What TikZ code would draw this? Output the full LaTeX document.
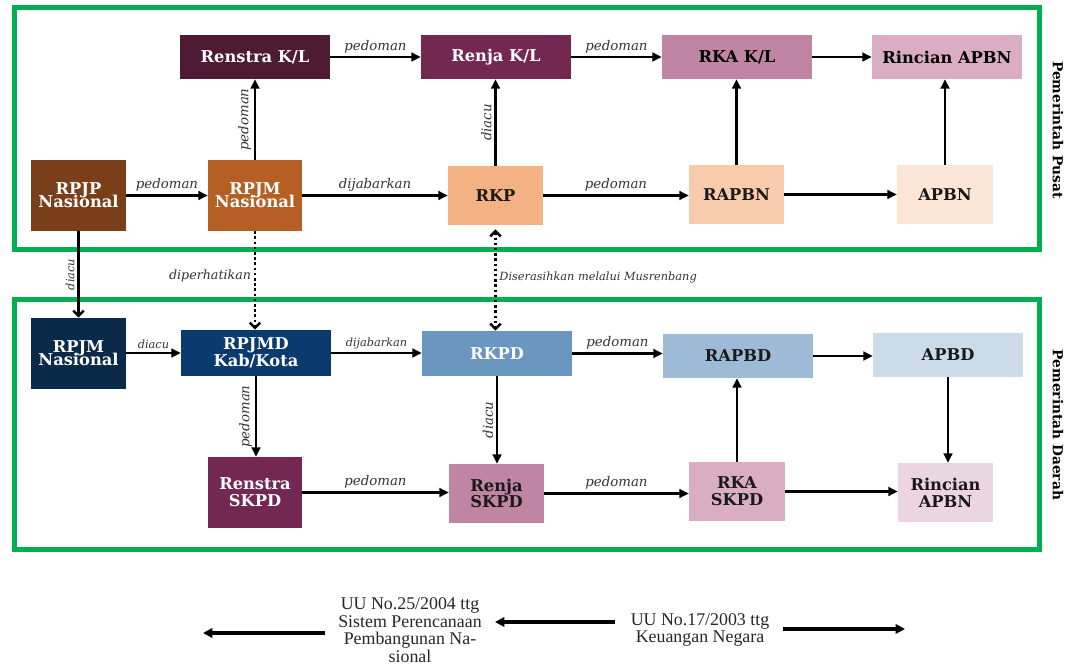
\documentclass[tikz,border=0pt]{standalone}
\usepackage{fontspec}
\setmainfont{DejaVu Serif}
\newfontfamily\legfont{Liberation Serif}
\usetikzlibrary{arrows.meta,calc}
\newcommand\tightlines{\lineskiplimit=-20pt\relax\lineskip=0pt\relax}
\definecolor{frameg}{HTML}{00B050}
\definecolor{cRenstraKL}{HTML}{4F1A34}
\definecolor{cRenjaKL}{HTML}{722850}
\definecolor{cRKAKL}{HTML}{C084A4}
\definecolor{cRincianT}{HTML}{D9ADC3}
\definecolor{cRPJP}{HTML}{7A3F1A}
\definecolor{cRPJM}{HTML}{B55F25}
\definecolor{cRKP}{HTML}{F4B183}
\definecolor{cRAPBN}{HTML}{F8CBAD}
\definecolor{cAPBN}{HTML}{FBE5D6}
\definecolor{cRPJMb}{HTML}{0B2A4A}
\definecolor{cRPJMD}{HTML}{0A3A6E}
\definecolor{cRKPD}{HTML}{6A96C0}
\definecolor{cRAPBD}{HTML}{9DBAD6}
\definecolor{cAPBD}{HTML}{CCDBE8}
\definecolor{cRenstraS}{HTML}{722850}
\definecolor{cRenjaS}{HTML}{C084A4}
\definecolor{cRKAS}{HTML}{D9ADC3}
\definecolor{cRincianB}{HTML}{EBD5E0}
\tikzset{
  box/.style={draw=none, inner sep=0pt, align=center,
    font=\fontsize{12.2}{12.5}\selectfont\bfseries},
  tight/.style={font=\fontsize{12.2}{9.6}\selectfont\bfseries\tightlines},
  conn/.style={line width=1.9pt, -{Triangle[length=7pt,width=6.5pt]}},
  dotconn/.style={line width=1.9pt, dotted, -{Straight Barb[length=4pt,width=8pt]}},
  lbl/.style={font=\fontsize{10}{12}\selectfont\itshape, text=black!80, inner sep=2pt},
  slbl/.style={font=\fontsize{8.5}{10}\selectfont\itshape, text=black!80, inner sep=2pt},
  side/.style={font=\fontsize{10.3}{12}\selectfont\bfseries, rotate=-90},
  leg/.style={font=\legfont\fontsize{13.4}{13.2}\selectfont, align=center, text=black!85, inner sep=0pt},
  legarrow/.style={line width=2.5pt, -{Triangle[length=7pt,width=7pt]}},
  frame/.style={draw=frameg, line width=3.75pt}
}
\newcommand\bx[9][]{\node[box,#1,fill=#7,text=#8,minimum width={(#4-#2)*0.75pt},minimum height={(#5-#3)*0.75pt}] (#6) at ({(#2+#4)/2},{(#3+#5)/2}) {#9};}
\begin{document}
\begin{tikzpicture}[x=0.75pt,y=-0.75pt]
\useasboundingbox (0,0) rectangle (1074,666);
% frames
\draw[frame] (14.5,8) rectangle (1039.5,250);
\draw[frame] (14.5,300) rectangle (1039.5,549);
% top boxes
\bx{180}{35}{330}{79}{renstraKL}{cRenstraKL}{white}{Renstra K/L}
\bx{421}{35}{571}{79}{renjaKL}{cRenjaKL}{white}{Renja K/L}
\bx{662}{35}{812}{79}{rkaKL}{cRKAKL}{black}{RKA K/L}
\bx{872}{35}{1022}{79}{rincianT}{cRincianT}{black}{Rincian APBN}
\bx[tight]{31}{160}{126}{231}{rpjp}{cRPJP}{white}{RPJP\\Nasional}
\bx[tight]{208}{160}{302}{231}{rpjm}{cRPJM}{white}{RPJM\\Nasional}
\bx{448}{166}{543}{225}{rkp}{cRKP}{black!90}{RKP}
\bx{689}{165}{784}{224}{rapbn}{cRAPBN}{black!90}{RAPBN}
\bx{897}{165}{993}{224}{apbn}{cAPBN}{black!90}{APBN}
% bottom boxes
\bx[tight]{31}{318}{126}{389}{rpjmb}{cRPJMb}{white}{RPJM\\Nasional}
\bx{181}{330}{331}{376}{rpjmd}{cRPJMD}{white}{RPJMD\\Kab/Kota}
\bx{422}{331}{572}{376}{rkpd}{cRKPD}{white}{RKPD}
\bx{663}{334}{813}{378}{rapbd}{cRAPBD}{black!90}{RAPBD}
\bx{873}{333}{1023}{377}{apbd}{cAPBD}{black!90}{APBD}
\bx{208}{457}{302}{528}{renstraS}{cRenstraS}{white}{Renstra\\SKPD}
\bx{449}{464}{544}{523}{renjaS}{cRenjaS}{black!90}{Renja\\SKPD}
\bx{689}{462}{785}{521}{rkaS}{cRKAS}{black!90}{RKA\\SKPD}
\bx{898}{463}{993}{522}{rincianB}{cRincianB}{black!90}{Rincian\\APBN}
% side labels
\node[side] (pusat) at (1058,130) {Pemerintah Pusat};
\node[side] (daerah) at (1058,425) {Pemerintah Daerah};
% top connectors
\draw[conn] (renstraKL.east) -- node[lbl,above] {pedoman} (renstraKL.east -| renjaKL.west);
\draw[conn] (renjaKL.east) -- node[lbl,above] {pedoman} (renjaKL.east -| rkaKL.west);
\draw[conn] (rkaKL.east) -- (rkaKL.east -| rincianT.west);
\draw[conn] (rpjp.east) -- node[lbl,above] {pedoman} (rpjp.east -| rpjm.west);
\draw[conn] (rpjm.north) -- node[lbl,rotate=90,anchor=south] {pedoman} (rpjm.north |- renstraKL.south);
\draw[conn] (rpjm.east) -- node[lbl,above] {dijabarkan} (rpjm.east -| rkp.west);
\draw[conn] (rkp.north) -- node[lbl,rotate=90,anchor=south] {diacu} (rkp.north |- renjaKL.south);
\draw[conn] (rkp.east) -- node[lbl,above] {pedoman} (rkp.east -| rapbn.west);
\draw[conn] (rapbn.north) -- (rapbn.north |- rkaKL.south);
\draw[conn] (rapbn.east) -- (rapbn.east -| apbn.west);
\draw[conn] (apbn.north) -- (apbn.north |- rincianT.south);
% between frames
\draw[line width=1.9pt, -{Straight Barb[length=4pt,width=8pt]}] (rpjp.south) -- node[slbl,rotate=90,anchor=south,pos=0.5] {diacu} (rpjp.south |- rpjmb.north);
\draw[dotconn] (rpjm.south) -- node[slbl,left,pos=0.45,font=\fontsize{9.5}{11}\selectfont\itshape] {diperhatikan} (rpjm.south |- rpjmd.north);
\draw[dotconn, {Straight Barb[length=4pt,width=8pt]}-{Straight Barb[length=4pt,width=8pt]}] ($(rkp.south)+(0,4)$) -- node[slbl,right,pos=0.47] {Diserasihkan melalui Musrenbang} (rkp.south |- rkpd.north);
% bottom connectors
\draw[conn] (rpjmb.east |- rpjmd.west) -- node[slbl,above] {diacu} (rpjmd.west);
\draw[conn] (rpjmd.east) -- node[slbl,above] {dijabarkan} (rpjmd.east -| rkpd.west);
\draw[conn] (rkpd.east) -- node[lbl,above] {pedoman} (rkpd.east -| rapbd.west);
\draw[conn] (rapbd.east) -- (rapbd.east -| apbd.west);
\draw[conn] (apbd.south) -- (apbd.south |- rincianB.north);
\draw[conn] (rpjmd.south) -- node[lbl,rotate=90,anchor=south] {pedoman} (rpjmd.south |- renstraS.north);
\draw[conn] (rkpd.south) -- node[lbl,rotate=90,anchor=south] {diacu} (rkpd.south |- renjaS.north);
\draw[conn] (renstraS.east) -- node[lbl,above] {pedoman} (renstraS.east -| renjaS.west);
\draw[conn] (renjaS.east) -- node[lbl,above] {pedoman} (renjaS.east -| rkaS.west);
\draw[conn] (rkaS.north) -- (rkaS.north |- rapbd.south);
\draw[conn] (rkaS.east) -- (rkaS.east -| rincianB.west);
% legend
\node[leg] (legA) at (410,630) {UU No.25/2004 ttg\\Sistem Perencanaan\\Pembangunan Na-\\sional};
\node[leg] (legB) at (700,630) {UU No.17/2003 ttg\\Keuangan Negara};
\coordinate (la1) at (325,633);
\coordinate (la2) at (203,633);
\coordinate (lb1) at (615,622);
\coordinate (lb2) at (495,622);
\coordinate (lc1) at (783,629);
\coordinate (lc2) at (905,629);
\draw[legarrow] (la1) -- (la2);
\draw[legarrow] (lb1) -- (lb2);
\draw[legarrow] (lc1) -- (lc2);
\end{tikzpicture}
\end{document}
